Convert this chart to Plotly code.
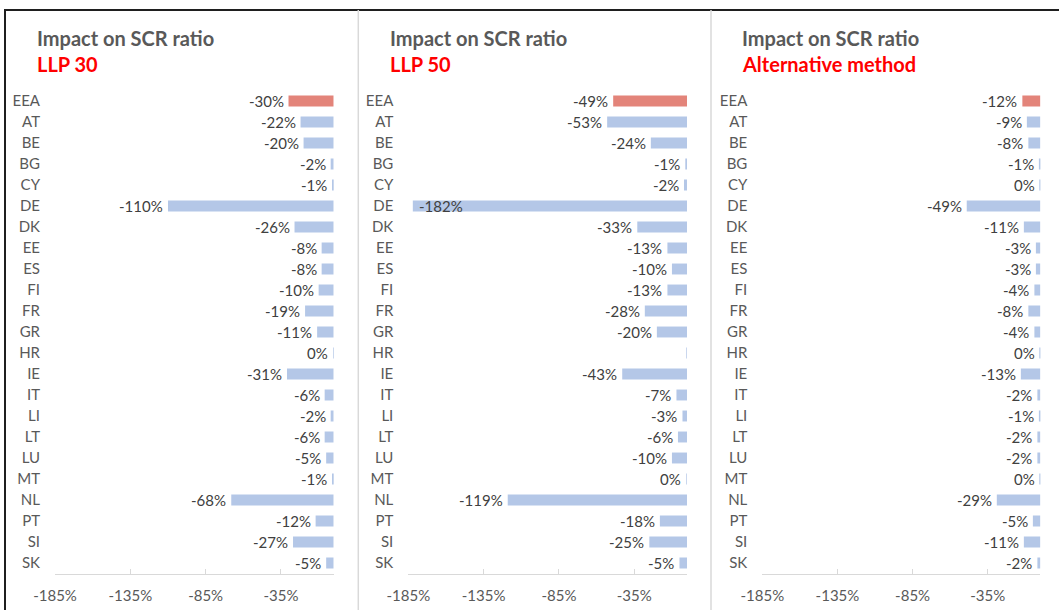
import plotly.graph_objects as go

W, H = 1059, 610

countries = ["EEA", "AT", "BE", "BG", "CY", "DE", "DK", "EE", "ES", "FI", "FR", "GR",
             "HR", "IE", "IT", "LI", "LT", "LU", "MT", "NL", "PT", "SI", "SK"]
llp30 = [-30, -22, -20, -2, -1, -110, -26, -8, -8, -10, -19, -11,
         -0.4, -31, -6, -2, -6, -5, -1, -68, -12, -27, -5]
llp50 = [-49, -53, -24, -1, -2, -182, -33, -13, -10, -13, -28, -20,
         -0.3, -43, -7, -3, -6, -10, -0.4, -119, -18, -25, -5]
alternative = [-12, -9, -8, -1, -0.4, -49, -11, -3, -3, -4, -8, -4,
               -0.4, -13, -2, -1, -2, -2, -0.4, -29, -5, -11, -2]
series = [llp30, llp50, alternative]
title_main = "Impact on SCR ratio"
subtitles = ["LLP 30", "LLP 50", "Alternative method"]
tick_vals = [-185, -135, -85, -35]
tick_text = ["-185%", "-135%", "-85%", "-35%"]
hidden_labels = {1: ["HR"]}
inside_labels = {1: ["DE"]}

FONT = "Lato"
GREY = "#595959"
DARK = "#404040"
EEA_COLOR = "#E3847A"
BAR_COLOR = "#B4C7E7"

# panel geometry in pixels
x_dom_px = [(55, 333.7), (408.3, 687), (762.3, 1040.4)]
title_x_px = [35, 388, 740]
y_dom_px = (90.5, 573.5)  # top, bottom


def px_x(p):
    return p / W


def px_y(p):
    return 1 - p / H


fig = go.Figure()
annotations = []
layout_axes = {}

for i, vals in enumerate(series):
    n = "" if i == 0 else str(i + 1)
    colors = [EEA_COLOR if c == "EEA" else BAR_COLOR for c in countries]
    fig.add_trace(go.Bar(
        x=vals, y=countries, orientation="h", width=0.52,
        marker=dict(color=colors, line=dict(width=0)),
        xaxis="x" + n, yaxis="y" + n, showlegend=False, hoverinfo="x+y",
    ))
    layout_axes["xaxis" + n] = dict(
        domain=[px_x(x_dom_px[i][0]), px_x(x_dom_px[i][1])],
        range=[-185, 0], tickvals=tick_vals, ticktext=tick_text,
        showline=True, linecolor="#D9D9D9", linewidth=1,
        ticks="inside", ticklen=5, tickcolor="#D9D9D9",
        showgrid=False, zeroline=False, anchor="y" + n, automargin=False,
        tickfont=dict(family=FONT, size=15, color=GREY),
        ticklabelstandoff=8, fixedrange=True,
    )
    layout_axes["yaxis" + n] = dict(
        domain=[px_y(y_dom_px[1]), px_y(y_dom_px[0])],
        type="category", categoryorder="array", categoryarray=countries,
        range=[len(countries) - 0.5, -0.5], automargin=False,
        showline=False, ticks="", showgrid=False, zeroline=False,
        anchor="x" + n, tickfont=dict(family=FONT, size=15, color=GREY),
        ticklabelstandoff=14, fixedrange=True,
    )
    # data labels
    for c, v in zip(countries, vals):
        if c in hidden_labels.get(i, []):
            continue
        inside = c in inside_labels.get(i, [])
        annotations.append(dict(
            x=v, y=c, xref="x" + n, yref="y" + n,
            text=f"{int(round(v))}%", showarrow=False,
            xanchor="left" if inside else "right",
            xshift=4 if inside else -3, yanchor="middle",
            font=dict(family=FONT, size=15, color=DARK),
        ))
    # titles
    annotations.append(dict(
        x=px_x(title_x_px[i]), y=px_y(38), xref="paper", yref="paper",
        text=f"<b>{title_main}</b>", showarrow=False, xanchor="left", yanchor="middle",
        font=dict(family=FONT, size=20, color=GREY),
    ))
    annotations.append(dict(
        x=px_x(title_x_px[i]), y=px_y(64), xref="paper", yref="paper",
        text=f"<b>{subtitles[i]}</b>", showarrow=False, xanchor="left", yanchor="middle",
        font=dict(family=FONT, size=20, color="#FF0000"),
    ))

shapes = [
    dict(type="rect", xref="paper", yref="paper", x0=px_x(5), x1=1.05,
         y0=-0.05, y1=px_y(10), line=dict(color="#1F1F1F", width=2), layer="above"),
    dict(type="line", xref="paper", yref="paper", x0=px_x(358.3), x1=px_x(358.3),
         y0=-0.05, y1=px_y(10), line=dict(color="#D9D9D9", width=1.5)),
    dict(type="line", xref="paper", yref="paper", x0=px_x(711), x1=px_x(711),
         y0=-0.05, y1=px_y(10), line=dict(color="#D9D9D9", width=1.5)),
]

fig.update_layout(
    width=W, height=H, margin=dict(l=0, r=0, t=0, b=0, autoexpand=False),
    paper_bgcolor="white", plot_bgcolor="white",
    font=dict(family=FONT, color=GREY),
    annotations=annotations, shapes=shapes, bargap=0.5,
    **layout_axes,
)

fig.write_html("out.html", config={"displayModeBar": False},
               post_script="document.body.style.margin='0';")
